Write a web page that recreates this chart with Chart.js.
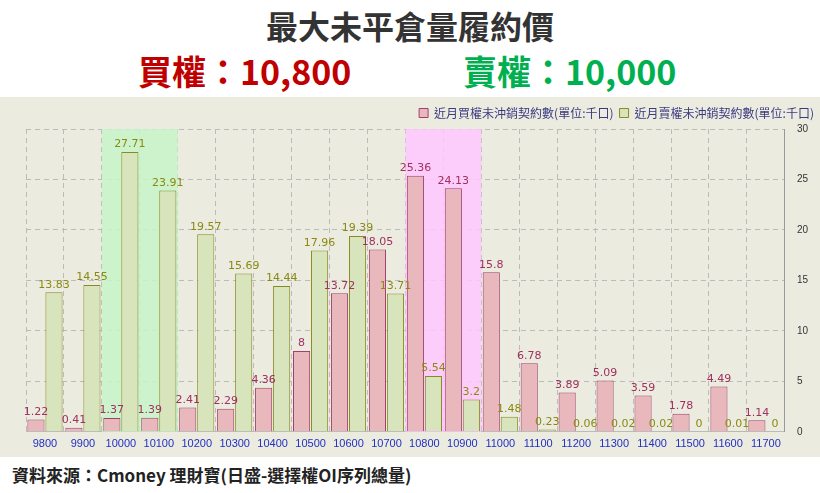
<!DOCTYPE html><html><head><meta charset="utf-8"><script src="https://cdn.jsdelivr.net/npm/chart.js"></script>
<style>body{margin:0;width:820px;height:493px;background:#fff;font-family:"Noto Sans CJK TC","Noto Sans";overflow:hidden}
#t1{position:absolute;top:2px;width:820px;text-align:center;font-size:32px;font-weight:bold;color:#333}
#t2{position:absolute;top:46px;left:138px;font-size:34px;font-weight:bold;color:#c00000}
#t3{position:absolute;top:46px;left:463px;font-size:34px;font-weight:bold;color:#00b050}
#bg{position:absolute;top:97px;left:0;width:820px;height:360px;background:#ecebe0}
#src{position:absolute;top:462px;left:12px;font-size:17px;font-weight:bold;color:#222}
#c{position:absolute;top:97px;left:0}</style></head><body>
<div id="t1">最大未平倉量履約價</div><div id="t2">買權：10,800</div><div id="t3">賣權：10,000</div>
<div id="bg"></div>
<canvas id="c"></canvas>
<div id="src">資料來源：Cmoney 理財寶(日盛-選擇權OI序列總量)</div>
<script>
const categories=["9800","9900","10000","10100","10200","10300","10400","10500","10600","10700","10800","10900","11000","11100","11200","11300","11400","11500","11600","11700"];
const callOI=[1.22,0.41,1.37,1.39,2.41,2.29,4.36,8,13.72,18.05,25.36,24.13,15.8,6.78,3.89,5.09,3.59,1.78,4.49,1.14];
const putOI=[13.83,14.55,27.71,23.91,19.57,15.69,14.44,17.96,19.39,13.71,5.54,3.2,1.48,0.23,0.06,0.02,0.02,0,0.01,0];
const hl={id:'hl',
beforeDatasetsDraw(ch){const x=ch.scales.x,a=ch.chartArea,c=ch.ctx;const w=x.getPixelForValue(1)-x.getPixelForValue(0);
[[2,3,'rgba(200,245,200,0.85)'],[10,11,'rgba(255,200,255,0.85)']].forEach(function(z){c.fillStyle=z[2];const l=x.getPixelForValue(z[0])-w/2,r=x.getPixelForValue(z[1])+w/2;c.fillRect(l,a.top,r-l,a.bottom-a.top);});},
afterDatasetsDraw(ch){const c=ch.ctx;c.save();c.font='11px "DejaVu Sans"';c.textAlign='center';c.textBaseline='bottom';
ch.data.datasets.forEach(function(d,i){c.fillStyle=i?'#8a8a10':'#a03060';ch.getDatasetMeta(i).data.forEach(function(b,j){c.fillText(String(d.data[j]),b.x,b.y-2);});});c.restore();}};
const c=document.getElementById('c');c.width=820;c.height=360;c.style.width='820px';c.style.height='360px';
new Chart(c,{type:'bar',data:{labels:categories,datasets:[
{label:'近月買權未沖銷契約數(單位:千口)',data:callOI,backgroundColor:'#e8b8bc',borderColor:'#a04070',borderWidth:1,categoryPercentage:0.95,barPercentage:0.95},
{label:'近月賣權未沖銷契約數(單位:千口)',data:putOI,backgroundColor:'#d8e4bc',borderColor:'#8a8a20',borderWidth:1,categoryPercentage:0.95,barPercentage:0.95}]},
options:{responsive:false,animation:false,layout:{padding:{left:26,right:0,top:4,bottom:0}},
plugins:{legend:{align:'end',labels:{boxWidth:9,boxHeight:9,color:'#3a3a80',font:{size:12,family:'"Noto Sans CJK TC"'},padding:6}},tooltip:{enabled:false}},
scales:{x:{grid:{offset:true,color:'#bbb',drawTicks:false},border:{dash:[5,4],color:'#bbb'},ticks:{color:'#2030c0',font:{size:11},padding:6,maxRotation:0,autoSkip:false}},
y:{position:'right',min:0,max:30,grid:{color:'#bbb',drawTicks:false},border:{dash:[5,4],color:'#999'},ticks:{stepSize:5,color:'#333',font:{size:10},padding:12}}}},
plugins:[hl]});
</script></body></html>
